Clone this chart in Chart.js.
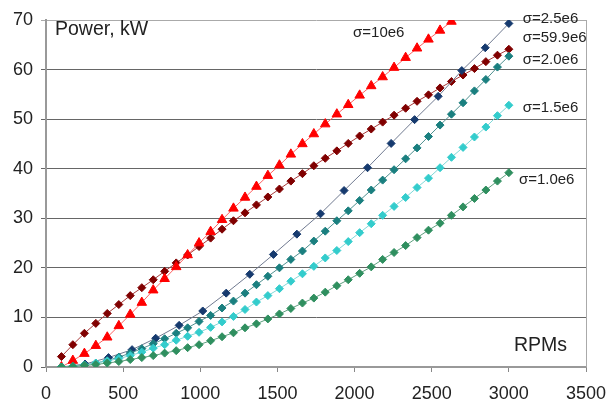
<!DOCTYPE html>
<html>
<head>
<meta charset="utf-8">
<script src="https://cdn.jsdelivr.net/npm/chart.js@4.4.1/dist/chart.umd.min.js"></script>
<style>
  html, body { margin: 0; padding: 0; background: #fff; }
  #wrap { width: 606px; height: 399px; }
</style>
</head>
<body>
<div id="wrap"><canvas id="powerChart"></canvas></div>
<script>
// RPM grids (40 points, and 20 points for the sparse series)
const rpm = [100, 174, 249, 323, 397, 472, 546, 621, 695, 769, 844, 918, 992, 1067, 1141, 1215,
  1290, 1364, 1438, 1513, 1587, 1662, 1736, 1810, 1885, 1959, 2033, 2108, 2182, 2256, 2331, 2405,
  2479, 2554, 2628, 2703, 2777, 2851, 2926, 3000];
const rpmCoarse = [100, 253, 405, 558, 711, 863, 1016, 1168, 1321, 1474, 1626, 1779, 1932, 2084,
  2237, 2389, 2542, 2695, 2847, 3000];

// power, kW
const pSigma10 = [0, 1.3, 2.7, 4.3, 6.0, 8.3, 10.6, 13.0, 15.5, 17.8, 20.2, 22.6, 25.0, 27.3, 29.7,
  32.0, 34.2, 36.4, 38.6, 40.7, 42.9, 45.0, 47.0, 49.0, 51.0, 52.9, 54.8, 56.7, 58.5, 60.4, 62.4,
  64.3, 66.1, 67.9, 69.7, 71.4];
const pSigma599 = [2.1, 4.5, 6.8, 8.8, 10.8, 12.6, 14.4, 16.0, 17.6, 19.3, 21.0, 22.6, 24.3, 26.0,
  27.8, 29.5, 31.1, 32.7, 34.3, 35.9, 37.5, 39.0, 40.6, 42.1, 43.6, 45.1, 46.6, 48.0, 49.4, 50.8,
  52.2, 53.6, 54.9, 56.3, 57.6, 58.9, 60.2, 61.6, 62.9, 64.1];
const pSigma25 = [0, 0.6, 1.9, 3.5, 5.8, 8.4, 11.3, 14.9, 18.7, 22.7, 26.8, 30.9, 35.6, 40.2, 45.1,
  49.9, 54.6, 59.8, 64.4, 69.3];
const pSigma20 = [0, 0.1, 0.4, 0.8, 1.3, 2.0, 2.8, 3.7, 4.7, 5.7, 6.8, 7.9, 9.2, 10.4, 11.9, 13.3,
  14.9, 16.6, 18.3, 20.0, 21.7, 23.4, 25.4, 27.4, 29.5, 31.5, 33.6, 35.7, 37.7, 39.8, 42.0, 44.2,
  46.5, 48.8, 51.0, 53.3, 55.7, 58.0, 60.5, 62.7];
const pSigma15 = [0, 0.1, 0.4, 0.8, 1.2, 1.7, 2.3, 3.0, 3.8, 4.5, 5.4, 6.2, 7.0, 8.0, 9.1, 10.2,
  11.6, 13.1, 14.4, 15.8, 17.3, 18.8, 20.3, 22.0, 23.5, 25.3, 27.1, 28.9, 30.6, 32.4, 34.2, 36.2,
  38.1, 40.2, 42.3, 44.3, 46.4, 48.4, 50.7, 52.8];
const pSigma10e = [0, 0.1, 0.3, 0.5, 0.8, 1.1, 1.5, 1.9, 2.3, 2.8, 3.3, 3.9, 4.5, 5.3, 6.1, 6.9,
  7.9, 8.7, 9.7, 10.7, 11.8, 12.9, 13.9, 15.1, 16.4, 17.6, 18.9, 20.2, 21.7, 23.1, 24.5, 26.1,
  27.6, 29.0, 30.6, 32.3, 34.0, 35.7, 37.5, 39.2];

const seriesNames = ['σ=10e6', 'σ=2.5e6', 'σ=59.9e6', 'σ=2.0e6', 'σ=1.5e6', 'σ=1.0e6'];

const FONT = '"Liberation Sans", Arial, sans-serif';

function pairs(xs, ys) {
  return ys.map((v, i) => ({ x: xs[i], y: v }));
}

function series(label, xs, ys, marker, line, style, radius) {
  return {
    label,
    data: pairs(xs, ys),
    borderColor: line,
    borderWidth: 1,
    backgroundColor: marker,
    pointBackgroundColor: marker,
    pointBorderColor: marker,
    pointBorderWidth: 1,
    pointStyle: style,
    pointRadius: radius,
    pointHoverRadius: radius,
    tension: 0,
    clip: 0
  };
}

// where each series note sits, in data units
const notePlaces = [
  [1990, 67.4],
  [3090, 70.3],
  [3090, 66.3],
  [3090, 62.0],
  [3090, 52.2],
  [3065, 37.8]
];

const annotate = {
  id: 'annotate',
  afterDraw(chart) {
    const { ctx, chartArea, scales: { x, y } } = chart;
    ctx.save();
    // right frame line
    ctx.strokeStyle = '#aaa';
    ctx.lineWidth = 1;
    ctx.beginPath();
    ctx.moveTo(chartArea.right + 0.5, chartArea.top);
    ctx.lineTo(chartArea.right + 0.5, chartArea.bottom);
    ctx.stroke();

    ctx.fillStyle = '#222';
    ctx.textBaseline = 'middle';
    ctx.textAlign = 'left';
    ctx.font = '19.5px ' + FONT;
    ctx.fillText('Power, kW', chartArea.left + 9, chartArea.top + 10);
    ctx.fillText('RPMs', chartArea.right - 72, chartArea.bottom - 21);

    ctx.font = '15px ' + FONT;
    seriesNames.forEach((name, i) => {
      const [vx, vy] = notePlaces[i];
      ctx.fillText(name, x.getPixelForValue(vx), y.getPixelForValue(vy));
    });
    ctx.restore();
  }
};

new Chart(document.getElementById('powerChart'), {
  type: 'line',
  data: {
    datasets: [
      series('σ=1.0e6', rpm, pSigma10e, '#2f8f5f', '#5f9f7f', 'rectRot', 4),
      series('σ=1.5e6', rpm, pSigma15, '#33cccc', '#80d8d8', 'rectRot', 4),
      series('σ=2.0e6', rpm, pSigma20, '#1a7f7f', '#4f8f8f', 'rectRot', 4),
      series('σ=2.5e6', rpmCoarse, pSigma25, '#163a6e', '#707a90', 'rectRot', 4),
      series('σ=10e6', rpm, pSigma10, '#ff0000', '#ff6060', 'triangle', 5.5),
      series('σ=59.9e6', rpm, pSigma599, '#800000', '#a83a3a', 'rectRot', 4)
    ]
  },
  options: {
    responsive: true,
    maintainAspectRatio: false,
    animation: false,
    layout: { padding: { top: 20, right: 0, left: 0, bottom: 0 } },
    plugins: {
      legend: { display: false },
      tooltip: { enabled: false }
    },
    scales: {
      x: {
        type: 'linear',
        min: 0,
        max: 3500,
        ticks: {
          stepSize: 500, color: '#222', font: { family: FONT, size: 18 }, padding: 11, maxRotation: 0,
          callback: v => String(v)
        },
        grid: { drawOnChartArea: false, drawTicks: true, tickLength: 5, color: '#888' },
        border: { color: '#999', width: 2 },
        afterFit(scale) {
          scale.height = 32;
          scale.paddingLeft = 0;
          scale.paddingRight = 20;
        }
      },
      y: {
        min: 0,
        max: 70,
        ticks: { stepSize: 10, color: '#222', font: { family: FONT, size: 18 }, padding: 8, callback: v => String(v) },
        grid: {
          color: ctx => (ctx.tick && ctx.tick.value === 70 ? '#aaa' : '#666'),
          tickLength: 5,
          lineWidth: 1
        },
        border: { color: '#999', width: 2 },
        afterFit(scale) {
          scale.width = 46;
          scale.paddingTop = 0;
          scale.paddingBottom = 0;
        }
      }
    }
  },
  plugins: [annotate]
});
</script>
</body>
</html>
